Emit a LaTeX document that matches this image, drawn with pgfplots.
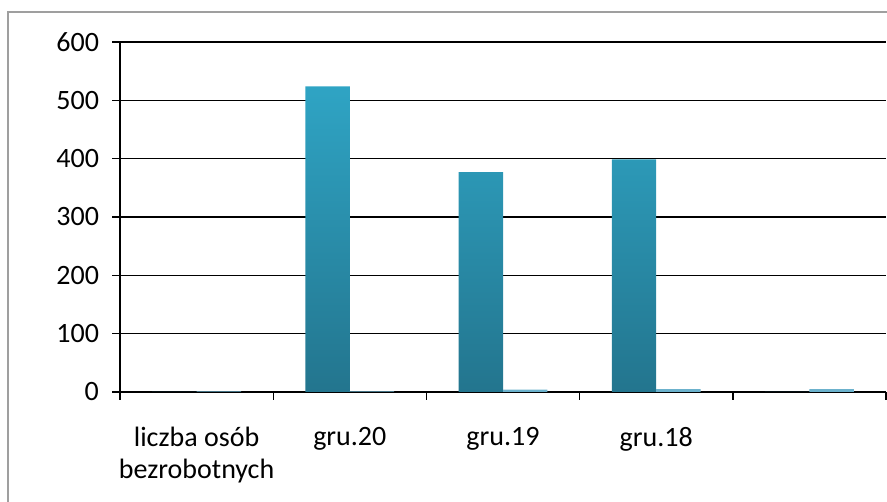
\documentclass[border=0pt]{standalone}
\usepackage{pgfplots}
\pgfplotsset{compat=1.18}
\usepackage{fontspec}
\setmainfont{Carlito}
\definecolor{topc}{HTML}{2FA4C4}
\definecolor{botc}{HTML}{23758E}
\definecolor{ser2}{HTML}{6CB2CD}
\begin{document}
\begin{tikzpicture}
\useasboundingbox (0,0) rectangle (443.5pt,251pt);
\draw[gray!75, line width=1pt] (4pt,-20pt) rectangle (470pt,245pt);
\begin{axis}[
  at={(60pt,55pt)}, anchor=south west,
  scale only axis, width=383pt, height=175pt,
  xmin=-0.5, xmax=4.5, ymin=0, ymax=600,
  axis lines*=left,
  axis line style={black, line width=0.8pt},
  ytick={0,100,...,600},
  ymajorgrids, major grid style={black, line width=0.8pt},
  tick align=outside, major tick length=4pt,
  tick style={black, line width=0.7pt},
  xtick={-0.5,0.5,1.5,2.5,3.5,4.5},
  xticklabels={},
  extra x ticks={0,1,2,3},
  extra x tick labels={{liczba osób\\bezrobotnych},gru.20,gru.19,gru.18},
  extra x tick style={major tick length=0pt, xmajorgrids=false, xticklabel style={align=center, yshift=-14pt}},
  /pgf/number format/assume math mode=true,
  ticklabel style={font=\fontsize{14}{16}\selectfont},
  yticklabel style={xshift=-3pt},
  clip=false,
]
\addplot[ybar, bar width=0.29, bar shift=-0.145, draw=none, top color=topc, bottom color=botc, shading=axis]
  coordinates {(0,0) (1,524) (2,377) (3,399) (4,0)};
\addplot[ybar, bar width=0.29, bar shift=0.145, draw=none, fill=ser2]
  coordinates {(0,1) (1,1) (2,4) (3,5) (4,5)};
\end{axis}
\end{tikzpicture}
\end{document}
